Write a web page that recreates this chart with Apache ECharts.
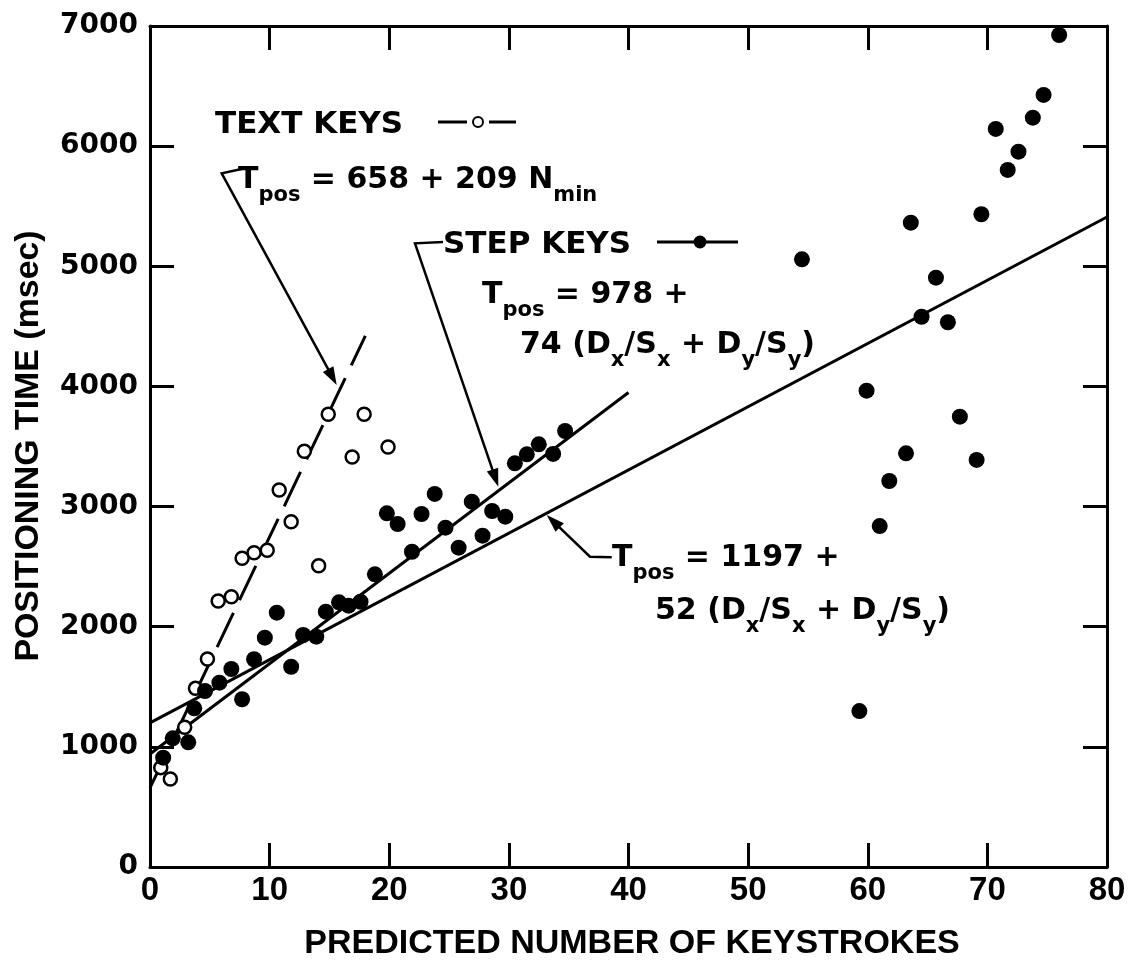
<!DOCTYPE html>
<html>
<head>
<meta charset="utf-8">
<script src="https://cdn.jsdelivr.net/npm/echarts@6/dist/echarts.min.js"></script>
<style>
html,body{margin:0;padding:0;background:#fff;}
#chart{width:1138px;height:961px;}
</style>
</head>
<body>
<div id="chart"></div>
<script>
// ---- axis ticks ----
const xTicks = [0, 10, 20, 30, 40, 50, 60, 70, 80];
const yTicks = [0, 1000, 2000, 3000, 4000, 5000, 6000, 7000];

// ---- TEXT KEYS (open circles) ----
const textKeysN = [14.9, 17.9, 16.9, 19.9, 12.9, 10.8, 11.8, 14.1, 7.7, 8.7, 9.8, 5.7, 6.8, 4.8, 3.8, 2.9, 0.9, 1.7];
const textKeysT = [3768, 3768, 3413, 3496, 3460, 3138, 2874, 2508, 2570, 2616, 2636, 2214, 2250, 1731, 1487, 1163, 827, 732];

// ---- STEP KEYS (filled circles) ----
const stepKeysN = [23.8, 19.8, 20.7, 22.7, 21.9, 18.8, 10.6, 14.7, 15.8, 16.6, 17.6, 9.6, 12.8, 13.9, 8.7, 11.8, 6.8, 5.8, 4.6, 3.7, 7.7, 1.9, 3.2, 1.1,
  24.7, 26.9, 28.6, 29.7, 25.8, 27.8, 30.5, 31.5, 32.5, 33.7, 34.7,
  76.0, 74.7, 73.8, 70.7, 72.6, 71.7, 69.5, 63.6, 54.5, 65.7, 64.5, 66.7, 59.9, 67.7, 63.2, 69.1, 61.8, 61.0, 59.3];
const stepKeysT = [3105, 2944, 2855, 2938, 2624, 2436, 2117, 2125, 2203, 2175, 2208, 1909, 1931, 1917, 1729, 1667, 1648, 1534, 1465, 1321, 1396, 1071, 1038, 910,
  2824, 3041, 2963, 2916, 2658, 2758, 3360, 3435, 3518, 3438, 3629,
  6925, 6426, 6237, 6143, 5954, 5802, 5433, 5363, 5058, 4905, 4580, 4534, 3965, 3748, 3443, 3388, 3213, 2838, 1298];

// ---- fitted lines (end points) ----
const textFitN = [0, 18];
const textFitT = [658, 4420];
const stepFitN = [0, 40];
const stepFitT = [940, 3950];
const allFitN = [0, 80];
const allFitT = [1200, 5410];

const zip = (a, b) => a.map((v, i) => [v, b[i]]);

const BLACK = '#000';
const ANN_FONT = 'DejaVu Sans';

// measure helper to fit titles
const mctx = document.createElement('canvas').getContext('2d');
function textWidth(font, s) { mctx.font = font; return mctx.measureText(s).width; }
function fitSize(family, s, target) {
  const w = textWidth('bold 100px ' + family, s);
  return Math.round(100 * target / w * 10) / 10;
}
const yTitleFamily = '"Liberation Sans"';
const yTitle = 'POSITIONING TIME (msec)';
const xTitle = 'PREDICTED NUMBER OF KEYSTROKES';
const yTitleSize = fitSize(yTitleFamily, yTitle, 431);
const xTitleSize = fitSize('"Liberation Sans"', xTitle, 655);

const axisBase = {
  type: 'value',
  min: 0,
  splitLine: { show: false },
  axisLine: { show: true, onZero: false, lineStyle: { color: BLACK, width: 3 } },
  axisTick: { show: true, inside: true, length: 24, lineStyle: { color: BLACK, width: 3 } }
};

const richMain = { fontFamily: ANN_FONT, fontWeight: 'bold', fontSize: 30, lineHeight: 32, verticalAlign: 'top', fill: BLACK, color: BLACK };
const richSub = { fontFamily: ANN_FONT, fontWeight: 'bold', fontSize: 21, lineHeight: 21, padding: [20, 0, 0, 0], verticalAlign: 'top', fill: BLACK, color: BLACK };

function eqText(x, y, parts) {
  const txt = parts.map(p => '{' + p[0] + '|' + p[1] + '}').join('');
  return {
    type: 'text', x: x, y: y, z: 100,
    style: { text: txt, fill: BLACK, textVerticalAlign: 'top', textAlign: 'left', rich: { m: richMain, s: richSub } }
  };
}
function plainText(x, y, s) {
  return {
    type: 'text', x: x, y: y, z: 100,
    style: { text: s, fill: BLACK, font: 'bold 31px "' + ANN_FONT + '"', textVerticalAlign: 'middle', textAlign: 'left' }
  };
}
function leader(pts) {
  const n = pts.length;
  const [x1, y1] = pts[n - 2], [x2, y2] = pts[n - 1];
  const dx = x2 - x1, dy = y2 - y1, L = Math.hypot(dx, dy);
  const ux = dx / L, uy = dy / L;
  const len = 18, hw = 6;
  const bx = x2 - ux * len, by = y2 - uy * len;
  const tri = [[x2, y2], [bx - uy * hw, by + ux * hw], [bx + uy * hw, by - ux * hw]];
  const linePts = pts.slice(0, n - 1).concat([[x2 - ux * 8, y2 - uy * 8]]);
  return [
    { type: 'polyline', z: 100, shape: { points: linePts }, style: { stroke: BLACK, lineWidth: 2.5, fill: null } },
    { type: 'polygon', z: 100, shape: { points: tri }, style: { fill: BLACK } }
  ];
}

const graphics = [
  // axis titles
  { type: 'text', x: 632, y: 944, z: 100,
    style: { text: xTitle, fill: BLACK, font: 'bold ' + xTitleSize + 'px "Liberation Sans"', textAlign: 'center', textVerticalAlign: 'middle' } },
  { type: 'text', x: 29, y: 446, rotation: Math.PI / 2, z: 100,
    style: { text: yTitle, fill: BLACK, font: 'bold ' + yTitleSize + 'px ' + yTitleFamily, textAlign: 'center', textVerticalAlign: 'middle' } },
  // TEXT KEYS label + symbol
  plainText(215, 125, 'TEXT KEYS'),
  { type: 'line', z: 100, shape: { x1: 438, y1: 122, x2: 467, y2: 122 }, style: { stroke: BLACK, lineWidth: 3 } },
  { type: 'line', z: 100, shape: { x1: 489, y1: 122, x2: 516, y2: 122 }, style: { stroke: BLACK, lineWidth: 3 } },
  { type: 'circle', z: 101, shape: { cx: 478, cy: 122, r: 5 }, style: { fill: '#fff', stroke: BLACK, lineWidth: 2 } },
  eqText(238, 165, [['m', 'T'], ['s', 'pos'], ['m', ' = 658 + 209 N'], ['s', 'min']]),
  // STEP KEYS label + symbol
  plainText(443, 245, 'STEP KEYS'),
  { type: 'line', z: 100, shape: { x1: 657, y1: 242, x2: 738, y2: 242 }, style: { stroke: BLACK, lineWidth: 3 } },
  { type: 'circle', z: 101, shape: { cx: 700, cy: 242, r: 6.5 }, style: { fill: BLACK } },
  eqText(482, 280, [['m', 'T'], ['s', 'pos'], ['m', ' = 978 +']]),
  eqText(520, 330, [['m', '74 (D'], ['s', 'x'], ['m', '/S'], ['s', 'x'], ['m', ' + D'], ['s', 'y'], ['m', '/S'], ['s', 'y'], ['m', ')']]),
  eqText(612, 543, [['m', 'T'], ['s', 'pos'], ['m', ' = 1197 +']]),
  eqText(655, 596, [['m', '52 (D'], ['s', 'x'], ['m', '/S'], ['s', 'x'], ['m', ' + D'], ['s', 'y'], ['m', '/S'], ['s', 'y'], ['m', ')']])
].concat(
  leader([[241.7, 169], [221.7, 173.3], [336.7, 385]]),
  leader([[443, 242], [415, 243.3], [498.3, 486.7]]),
  leader([[611.7, 557.3], [590, 556.7], [546.7, 515]])
);

const chart = echarts.init(document.getElementById('chart'), null, { renderer: 'canvas' });
const option = {
  animation: false,
  backgroundColor: '#fff',
  grid: { left: 150, right: 31, top: 26, bottom: 94, containLabel: false },
  xAxis: [
    Object.assign({}, axisBase, {
      max: 80, interval: 10, position: 'bottom',
      axisTick: Object.assign({}, axisBase.axisTick, { customValues: xTicks }),
      axisLabel: { customValues: xTicks, formatter: v => String(v), fontFamily: 'Liberation Sans', fontWeight: 'bold', fontSize: 33, color: BLACK, margin: 7 }
    }),
    Object.assign({}, axisBase, {
      max: 80, interval: 10, position: 'top',
      axisTick: Object.assign({}, axisBase.axisTick, { customValues: xTicks }),
      axisLabel: { show: false }
    })
  ],
  yAxis: [
    Object.assign({}, axisBase, {
      max: 7000, interval: 1000, position: 'left',
      axisTick: Object.assign({}, axisBase.axisTick, { customValues: yTicks }),
      axisLabel: { customValues: yTicks, formatter: v => String(v), fontFamily: 'DejaVu Sans', fontWeight: 'bold', fontSize: 28, color: BLACK, margin: 12 }
    }),
    Object.assign({}, axisBase, {
      max: 7000, interval: 1000, position: 'right',
      axisTick: Object.assign({}, axisBase.axisTick, { customValues: yTicks }),
      axisLabel: { show: false }
    })
  ],
  series: [
    { name: 'text fit', type: 'line', data: zip(textFitN, textFitT), showSymbol: false, silent: true,
      lineStyle: { color: BLACK, width: 3, type: [38, 14] }, z: 2 },
    { name: 'step fit', type: 'line', data: zip(stepFitN, stepFitT), showSymbol: false, silent: true,
      lineStyle: { color: BLACK, width: 3 }, z: 2 },
    { name: 'overall fit', type: 'line', data: zip(allFitN, allFitT), showSymbol: false, silent: true,
      lineStyle: { color: BLACK, width: 3 }, z: 2 },
    { name: 'TEXT KEYS', type: 'scatter', data: zip(textKeysN, textKeysT), symbol: 'circle', symbolSize: 13,
      itemStyle: { color: '#fff', borderColor: BLACK, borderWidth: 2.5, opacity: 1 }, z: 5 },
    { name: 'STEP KEYS', type: 'scatter', data: zip(stepKeysN, stepKeysT), symbol: 'circle', symbolSize: 16,
      itemStyle: { color: BLACK, opacity: 1 }, z: 6 }
  ],
  graphic: { elements: graphics }
};
chart.setOption(option);
</script>
</body>
</html>
